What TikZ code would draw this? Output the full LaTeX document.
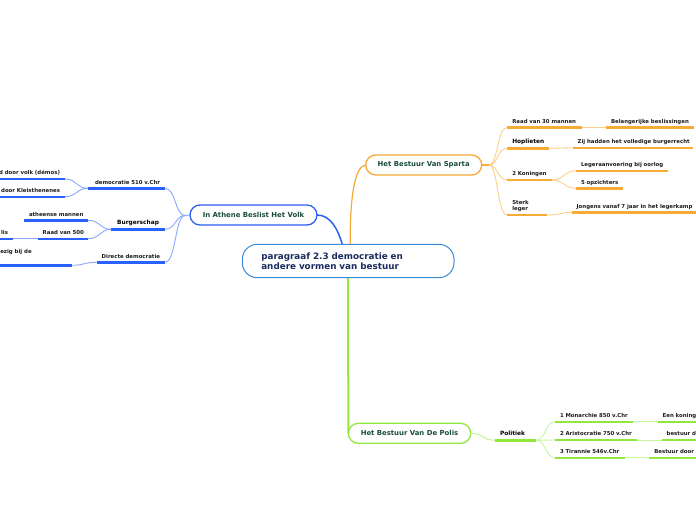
\documentclass[tikz,border=0pt]{standalone}
\usepackage{fontspec}
\setmainfont{DejaVu Sans}
\usetikzlibrary{calc}
\definecolor{bl}{HTML}{2962FF}
\definecolor{bll}{HTML}{8CA8FF}
\definecolor{blb}{HTML}{2E5FF0}
\definecolor{cb}{HTML}{3C8AD6}
\definecolor{or}{HTML}{F7AA35}
\definecolor{orl}{HTML}{FCD08A}
\definecolor{gr}{HTML}{8FE83B}
\definecolor{grl}{HTML}{C8F5A0}
\definecolor{ink}{HTML}{1E1E1E}
\definecolor{dkg}{HTML}{1B4D3E}
\definecolor{navy}{HTML}{1A2B5E}
\newcommand{\fsm}{\bfseries\fontsize{5.4}{6}\selectfont}
\newcommand{\fbg}{\bfseries\fontsize{5.85}{7}\selectfont}
\tikzset{
  lbl/.style={inner xsep=5pt, inner ysep=4.3pt, text depth=0pt, outer sep=0pt, text=ink, font=\fsm},
  lw/.style={lbl, anchor=south west, align=left, text width=#1},
  rw/.style={lbl, anchor=south east, align=right, text width=#1},
  big/.style={font=\fbg, text=black, inner ysep=5.3pt},
  mainnode/.style={draw, rounded corners=10pt, line width=1.3pt, fill=white, text=dkg,
     font=\bfseries\fontsize{6.9}{8}\selectfont, minimum height=20pt, inner sep=0pt, outer sep=0pt},
  ulb/.style={line width=2.4pt, bl},
  ulo/.style={line width=2.4pt, or},
  ulg/.style={line width=2.4pt, gr},
  cbl/.style={line width=0.9pt, bll},
  col/.style={line width=0.9pt, orl},
  cgl/.style={line width=0.9pt, grl},
}
\begin{document}
\begin{tikzpicture}[x=1pt,y=-1pt]
\useasboundingbox (0,0) rectangle (696,520);
\clip (0,0) rectangle (696,520);
\fill[white] (0,0) rectangle (696,520);

% main nodes
\node[draw=cb, line width=1pt, rounded corners=15pt, minimum width=211.7pt, minimum height=33.4pt,
  inner xsep=19pt, inner ysep=0pt, text width=173.7pt, align=left, text=navy,
  font=\bfseries\fontsize{8.8}{10.3}\selectfont] (central) at (348.15,261) {paragraaf 2.3 democratie en\\andere vormen van bestuur};
\node[mainnode, draw=blb, minimum width=127pt] (ath) at (253.5,215) {In Athene Beslist Het Volk};
\node[mainnode, draw=or, minimum width=116pt] (sparta) at (423.7,165) {Het Bestuur Van Sparta};
\node[mainnode, draw=gr, minimum width=122.4pt] (polis) at (409.5,433.3) {Het Bestuur Van De Polis};

% main edges
\draw[line width=1.5pt, blb] (ath.east) .. controls (331,215) and (338,230) .. ($(central.north)+(-6,0)$);
\draw[line width=1.2pt, or] ($(central.north)+(2,0)$) .. controls (350,195) and (355,166) .. (sparta.west);
\draw[line width=2pt, gr] (central.south) -- (polis.west);

% ---------- Sparta ----------
\node[lw=64.4pt] (r30) at (507.3,127.3) {\mbox{Raad van 30 mannen}};
\node[lw=78pt] (bel) at (606,127.3) {\mbox{Belangerijke beslissingen}};
\node[lw=32pt, big] (hop) at (507.3,148.3) {\mbox{Hoplieten}};
\node[lw=110.6pt] (zij) at (572.7,147.7) {\mbox{Zij hadden het volledige burgerrecht}};
\node[lw=34.4pt] (kon) at (507.3,180) {\mbox{2 Koningen}};
\node[lw=82.3pt] (leg) at (576,170.7) {\mbox{Legeraanvoering bij oorlog}};
\node[lw=36.7pt] (opz) at (576,188.3) {\mbox{5 opzichters}};
\node[lw=30pt, inner ysep=10.3pt] (ster) at (507.3,215) {Sterk\\leger};
\node[lw=114.3pt] (jong) at (571.7,212.3) {\mbox{Jongens vanaf 7 jaar in het legerkamp}};

\foreach \n in {r30,bel,hop,zij,kon,leg,opz,ster,jong}
  \draw[ulo] (\n.south west) -- (\n.south east);

\coordinate (sf) at (489,165);
\draw[line width=1.2pt, or] (sparta.east) -- (sf);
\draw[col] (sf) .. controls (498,165) and (497,127.3) .. (r30.south west);
\draw[col] (sf) .. controls (498,165) and (497,148.3) .. (hop.south west);
\draw[col] (sf) .. controls (498,165) and (497,180) .. (kon.south west);
\draw[col] (sf) .. controls (498,165) and (497,215) .. (ster.south west);
\draw[col] (r30.south east) -- (bel.south west);
\draw[col] (hop.south east) .. controls (561,148.3) and (561,147.7) .. (zij.south west);
\draw[col] (kon.south east) .. controls (564,180) and (564,170.7) .. (leg.south west);
\draw[col] (kon.south east) .. controls (564,180) and (564,188.3) .. (opz.south west);
\draw[col] (ster.south east) .. controls (560,215) and (560,212.3) .. (jong.south west);

% ---------- Polis ----------
\node[lw=31pt, big] (pol) at (495,440.3) {\mbox{Politiek}};
\node[lw=68.3pt] (mon) at (555,421.7) {\mbox{1 Monarchie 850 v.Chr}};
\node[lw=50pt, inner xsep=4.4pt] (kon1) at (658.3,421.7) {\mbox{Een koning}};
\node[lw=71.7pt] (ari) at (555,440) {\mbox{2 Aristocratie 750 v.Chr}};
\node[lw=50pt] (bd) at (661.7,440) {\mbox{bestuur d}};
\node[lw=60pt] (tir) at (555,457.7) {\mbox{3 Tirannie 546v.Chr}};
\node[lw=50pt] (bdoor) at (649.3,457.7) {\mbox{Bestuur door}};

\foreach \n in {pol,mon,kon1,ari,bd,tir,bdoor}
  \draw[ulg] (\n.south west) -- (\n.south east);

\draw[cgl, line width=1.1pt] (polis.east) .. controls (483,433.3) and (483,440.3) .. (pol.south west);
\draw[cgl] (pol.south east) .. controls (546,440.3) and (545,421.7) .. (mon.south west);
\draw[cgl] (pol.south east) -- (ari.south west);
\draw[cgl] (pol.south east) .. controls (546,440.3) and (545,457.7) .. (tir.south west);
\draw[cgl] (mon.south east) -- (kon1.south west);
\draw[cgl] (ari.south east) -- (bd.south west);
\draw[cgl] (tir.south east) -- (bdoor.south west);

% ---------- Athene ----------
\node[rw=67pt] (d510) at (165,188.3) {\mbox{democratie 510 v.Chr}};
\node[rw=90pt] (demos) at (65,179) {\mbox{d door volk (démos)}};
\node[rw=90pt] (kleis) at (65,196.7) {\mbox{door Kleisthenenes}};
\node[rw=42pt, big, inner xsep=6pt] (burg) at (165,229.3) {\mbox{Burgerschap}};
\node[rw=54pt] (athm) at (88,220.3) {\mbox{atheense mannen}};
\node[rw=40.3pt] (r500) at (88,238.7) {\mbox{Raad van 500}};
\node[rw=40pt] (lis) at (13,238.7) {\mbox{lis}};
\node[rw=58.3pt] (direct) at (165,262.3) {\mbox{Directe democratie}};
\node[lbl, anchor=south east, inner sep=0pt, minimum width=100pt, minimum height=12pt] (ezig) at (72.3,265.3) {};
\node[lbl, anchor=base east, inner sep=0pt] (ezigt) at (31.7,253.8) {\mbox{ezig bij de}};

\foreach \n in {d510,demos,kleis,burg,athm,r500,lis,direct,ezig}
  \draw[ulb] (\n.south west) -- (\n.south east);

\coordinate (af) at (185,215.5);
\draw[cbl] (ath.west) -- (af);
\draw[cbl] (af) .. controls (175,215.5) and (176,188.3) .. (d510.south east);
\draw[cbl] (af) .. controls (175,215.5) and (176,229.3) .. (burg.south east);
\draw[cbl] (af) .. controls (175,215.5) and (176,262.3) .. (direct.south east);
\draw[cbl] (d510.south west) .. controls (76,188.3) and (77,179) .. (demos.south east);
\draw[cbl] (d510.south west) .. controls (76,188.3) and (77,196.7) .. (kleis.south east);
\draw[cbl] (burg.south west) .. controls (100,229.3) and (100,220.3) .. (athm.south east);
\draw[cbl] (burg.south west) .. controls (100,229.3) and (100,238.7) .. (r500.south east);
\draw[cbl] (r500.south west) -- (lis.south east);
\draw[cbl] (direct.south west) .. controls (84,262.3) and (84,265.3) .. (ezig.south east);
\end{tikzpicture}
\end{document}
